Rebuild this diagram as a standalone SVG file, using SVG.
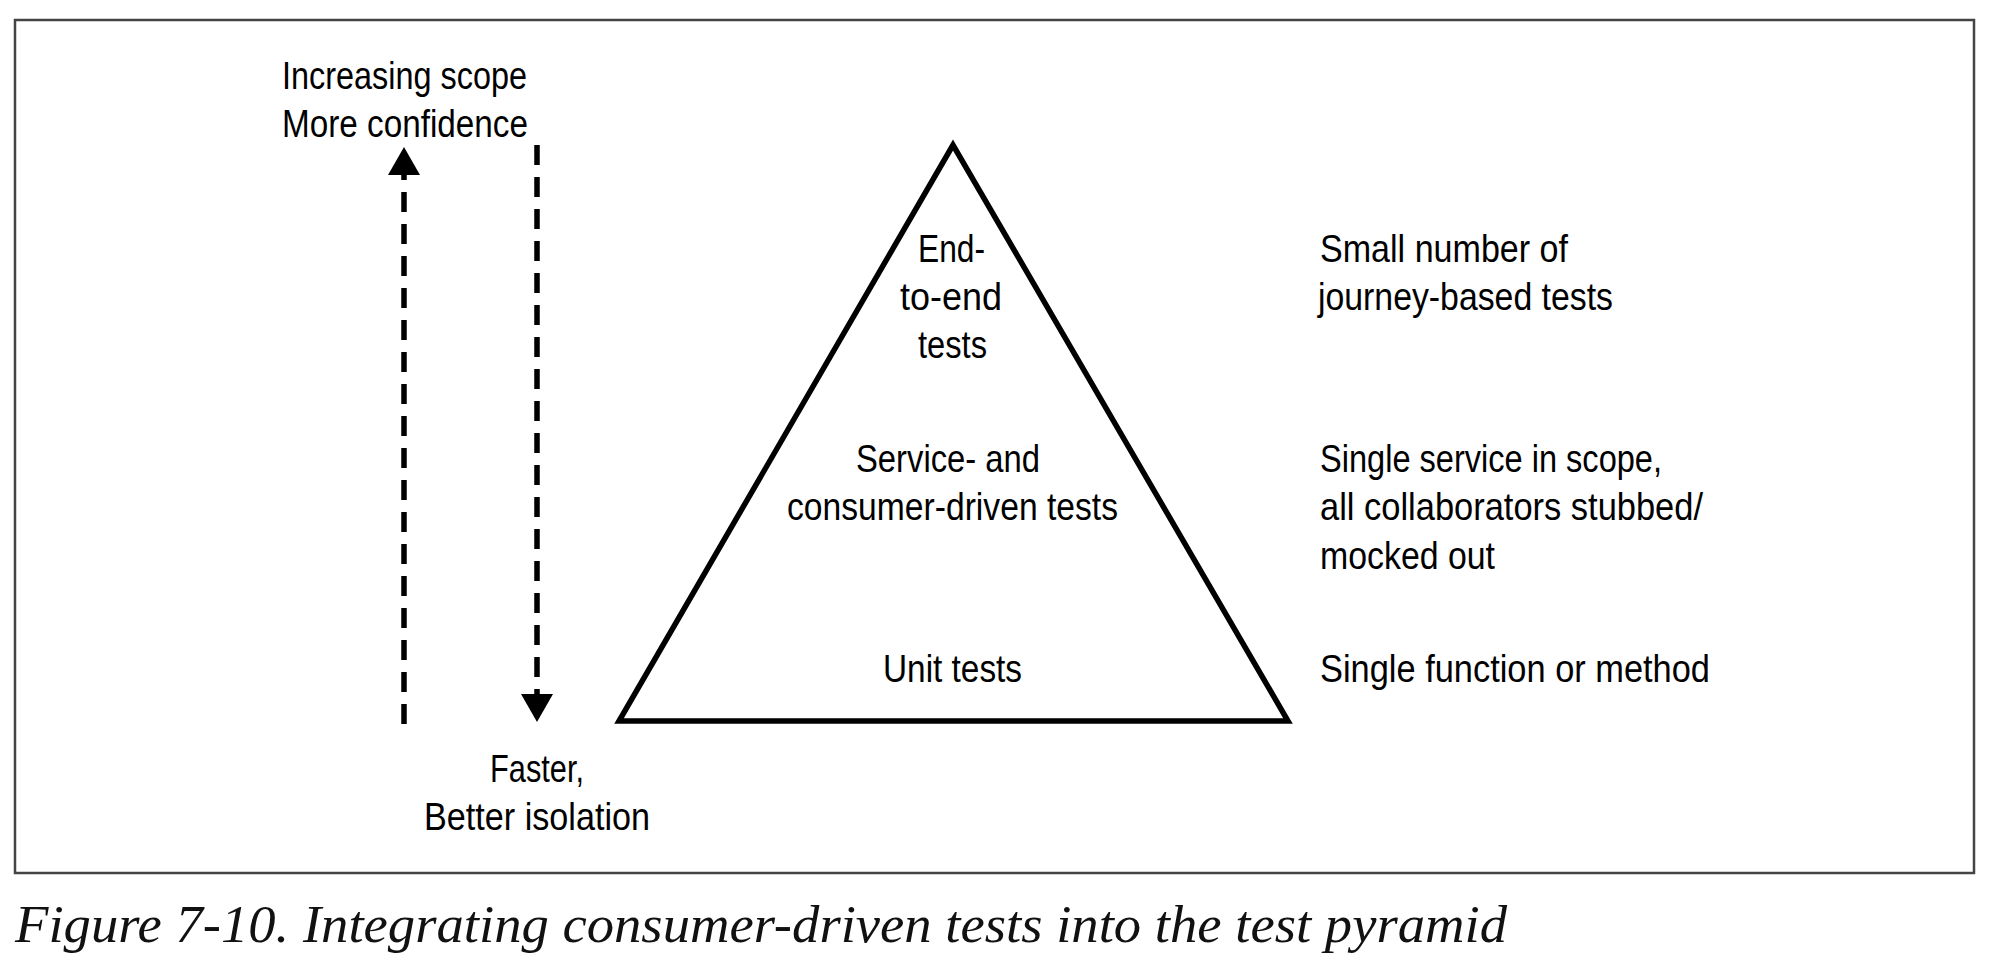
<svg xmlns="http://www.w3.org/2000/svg" width="2000" height="976" viewBox="0 0 2000 976">
<style>
.t{font-family:"Liberation Sans","DejaVu Sans",sans-serif;font-size:39px;fill:#000}
.cap{font-family:"Liberation Serif","DejaVu Serif",serif;font-style:italic;font-size:52px;fill:#111}
.dash{fill:none;stroke:#000;stroke-width:5.5;stroke-dasharray:20 12}
</style>
<defs>
<marker id="ah" viewBox="0 -16 28 32" refX="0" refY="0" markerWidth="28" markerHeight="32" markerUnits="userSpaceOnUse" orient="auto">
<path d="M0,-16 L28,0 L0,16 z" fill="#000"/>
</marker>
</defs>
<rect x="0" y="0" width="2000" height="976" fill="#fff"/>
<rect id="frame" x="15" y="20" width="1959" height="853" fill="none" stroke="#444" stroke-width="2.5"/>
<g id="connectors">
<line class="dash" x1="404" y1="724" x2="404" y2="175" marker-end="url(#ah)"/>
<line class="dash" x1="537" y1="145" x2="537" y2="694" marker-end="url(#ah)"/>
</g>
<g id="label-up">
<text class="t" x="282" y="89" textLength="245" lengthAdjust="spacingAndGlyphs">Increasing scope</text>
<text class="t" x="282" y="137" textLength="246" lengthAdjust="spacingAndGlyphs">More confidence</text>
</g>
<g id="label-down">
<text class="t" x="490" y="782" textLength="94" lengthAdjust="spacingAndGlyphs">Faster,</text>
<text class="t" x="424" y="830" textLength="226" lengthAdjust="spacingAndGlyphs">Better isolation</text>
</g>
<g id="pyramid">
<polygon points="953,145 619,721 1288,721" fill="none" stroke="#000" stroke-width="5.5" stroke-linejoin="miter"/>
</g>
<g id="level-e2e">
<text class="t" x="918" y="262" textLength="67" lengthAdjust="spacingAndGlyphs">End-</text>
<text class="t" x="900" y="310" textLength="102" lengthAdjust="spacingAndGlyphs">to-end</text>
<text class="t" x="918" y="358" textLength="69" lengthAdjust="spacingAndGlyphs">tests</text>
</g>
<g id="level-service">
<text class="t" x="856" y="472" textLength="184" lengthAdjust="spacingAndGlyphs">Service- and</text>
<text class="t" x="787" y="520" textLength="331" lengthAdjust="spacingAndGlyphs">consumer-driven tests</text>
</g>
<g id="level-unit">
<text class="t" x="883" y="682" textLength="139" lengthAdjust="spacingAndGlyphs">Unit tests</text>
</g>
<g id="desc-e2e">
<text class="t" x="1320" y="262" textLength="248" lengthAdjust="spacingAndGlyphs">Small number of</text>
<text class="t" x="1318" y="310" textLength="295" lengthAdjust="spacingAndGlyphs">journey-based tests</text>
</g>
<g id="desc-service">
<text class="t" x="1320" y="472" textLength="342" lengthAdjust="spacingAndGlyphs">Single service in scope,</text>
<text class="t" x="1320" y="520" textLength="383" lengthAdjust="spacingAndGlyphs">all collaborators stubbed/</text>
<text class="t" x="1320" y="569" textLength="175" lengthAdjust="spacingAndGlyphs">mocked out</text>
</g>
<g id="desc-unit">
<text class="t" x="1320" y="682" textLength="390" lengthAdjust="spacingAndGlyphs">Single function or method</text>
</g>
<text class="cap" x="15" y="942" textLength="1492" lengthAdjust="spacingAndGlyphs">Figure 7-10. Integrating consumer-driven tests into the test pyramid</text>
</svg>
